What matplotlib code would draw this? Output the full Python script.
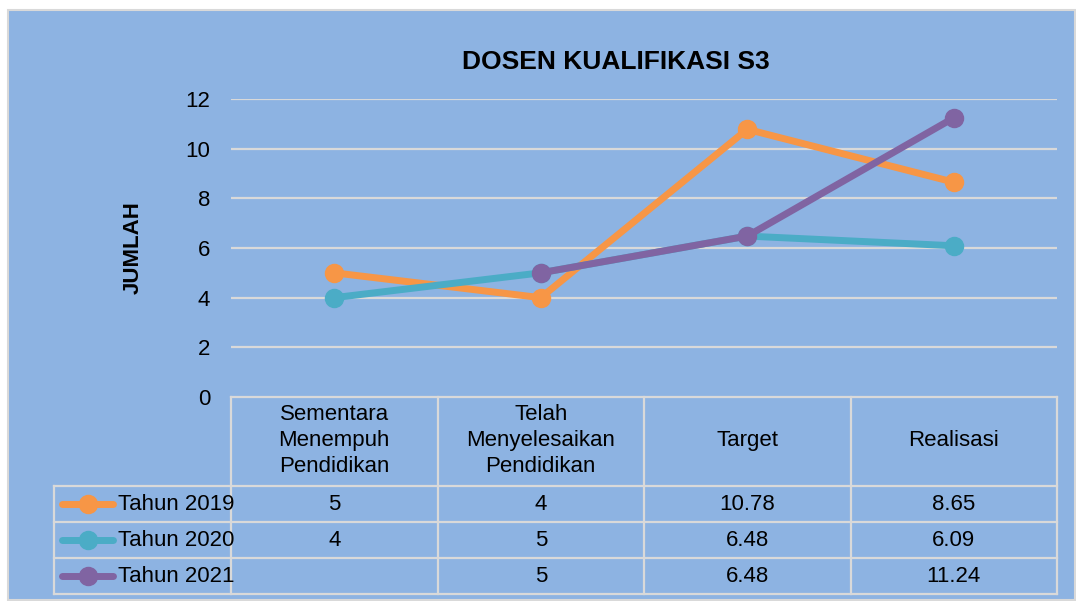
import matplotlib
matplotlib.use('Agg')
import matplotlib.pyplot as plt
import matplotlib.transforms as mtransforms
from matplotlib.patches import Rectangle
from matplotlib.lines import Line2D
import numpy as np

categories = ['Sementara\nMenempuh\nPendidikan', 'Telah\nMenyelesaikan\nPendidikan', 'Target', 'Realisasi']
series_names = ['Tahun 2019', 'Tahun 2020', 'Tahun 2021']
tahun_2019 = [5, 4, 10.78, 8.65]
tahun_2020 = [4, 5, 6.48, 6.09]
tahun_2021 = [np.nan, 5, 6.48, 11.24]
table_text = [['5', '4', '10.78', '8.65'],
              ['4', '5', '6.48', '6.09'],
              ['', '5', '6.48', '11.24']]
colors = ['#F79646', '#4BACC6', '#8064A2']
yticks = [0, 2, 4, 6, 8, 10, 12]

plt.rcParams['font.family'] = ['Liberation Sans', 'DejaVu Sans']
fs = 16

W, H = 1076, 601
fig = plt.figure(figsize=(W / 100, H / 100), dpi=100)
fig.patch.set_facecolor('white')

bg = '#8DB3E2'
grid_c = '#D9D9D9'
fig.patches.append(Rectangle((8 / W, 1 - 600 / H), (1075 - 8) / W, (600 - 10) / H,
                             transform=fig.transFigure, facecolor=bg, edgecolor=grid_c,
                             lw=1.5, zorder=-5))

# plot area in pixels
px_l, px_r, px_t, px_b = 231, 1057, 99, 397
ax = fig.add_axes([px_l / W, 1 - px_b / H, (px_r - px_l) / W, (px_b - px_t) / H])
ax.set_zorder(2)
ax.set_facecolor('none')
for s in ax.spines.values():
    s.set_visible(False)

x = np.arange(len(categories))
for vals, c, name in zip([tahun_2019, tahun_2020, tahun_2021], colors, series_names):
    ax.plot(x, vals, color=c, lw=5, marker='o', ms=13, label=name, zorder=3,
            solid_capstyle='round', clip_on=False)

ax.set_xlim(-0.5, len(categories) - 0.5)
ax.set_ylim(0, 12)
ax.set_yticks(yticks)
ax.set_yticklabels([str(v) for v in yticks], fontsize=fs)
ax.tick_params(axis='y', length=0, pad=15)
ax.set_xticks([])
for v in yticks[1:]:
    ax.axhline(v, color=grid_c, lw=1.6, zorder=1)

ax.set_ylabel('JUMLAH', fontsize=fs, fontweight='bold', labelpad=30)
fig.text(616 / W, 1 - 62 / H, 'DOSEN KUALIFIKASI S3', fontsize=19, fontweight='bold',
         ha='center', va='center')

# data table below the plot
def fy(py):
    return 1 - py / H

def fx(px):
    return px / W

tbl_left = 54
header_bottom = 486
row_lines = [486, 522, 558, 594]
cat_w = (px_r - px_l) / len(categories)
col_edges = [px_l + i * cat_w for i in range(len(categories) + 1)]

lk = dict(color=grid_c, lw=1.6, transform=fig.transFigure)
fig.lines.append(Line2D([fx(px_l), fx(px_r)], [fy(px_b), fy(px_b)], **lk))
for ry in row_lines:
    fig.lines.append(Line2D([fx(tbl_left), fx(px_r)], [fy(ry), fy(ry)], **lk))
for cx in col_edges:
    fig.lines.append(Line2D([fx(cx), fx(cx)], [fy(px_b), fy(row_lines[-1])], **lk))
fig.lines.append(Line2D([fx(tbl_left), fx(tbl_left)], [fy(row_lines[0]), fy(row_lines[-1])], **lk))

# x in data coordinates, y in figure coordinates
trans = mtransforms.blended_transform_factory(ax.transData, fig.transFigure)
for i, cat in enumerate(categories):
    fig.text(x[i], fy((px_b + header_bottom) / 2 - 1), cat, transform=trans, fontsize=fs,
             ha='center', va='center', linespacing=1.3)

for r, name in enumerate(series_names):
    yc = fy((row_lines[r] + row_lines[r + 1]) / 2)
    fig.lines.append(Line2D([fx(62), fx(113)], [yc, yc], color=colors[r], lw=5,
                            transform=fig.transFigure, solid_capstyle='round'))
    fig.lines.append(Line2D([fx(88)], [yc], color=colors[r], marker='o', ms=13,
                            transform=fig.transFigure))
    fig.text(fx(118), yc, name, fontsize=fs, ha='left', va='center')
    for i, s in enumerate(table_text[r]):
        fig.text(x[i], yc, s, transform=trans, fontsize=fs, ha='center', va='center')

fig.savefig('out.png', dpi=100, facecolor='white')
